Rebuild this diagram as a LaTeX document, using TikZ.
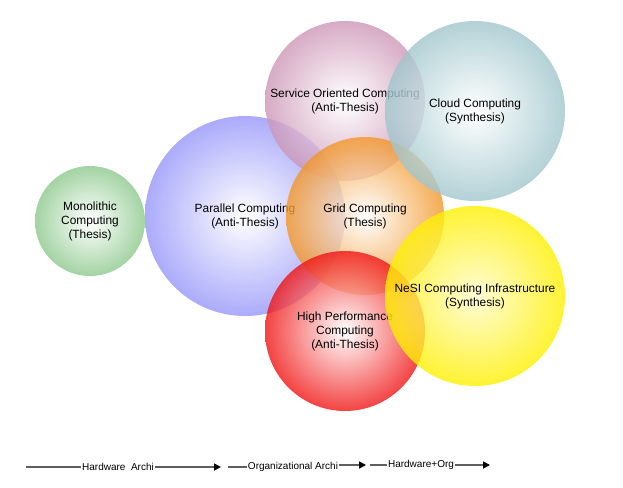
\documentclass[tikz,border=0pt]{standalone}
\usepackage{fontspec}
\setmainfont{Liberation Sans}
\usetikzlibrary{arrows.meta}
\definecolor{cgreen}{RGB}{140,200,140}
\definecolor{cblue}{RGB}{150,150,250}
\definecolor{cpink}{RGB}{205,150,182}
\definecolor{ccloud}{RGB}{160,198,204}
\definecolor{corange}{RGB}{242,150,40}
\definecolor{cred}{RGB}{240,20,20}
\definecolor{cyellow}{RGB}{255,240,0}
\definecolor{lgray}{RGB}{95,95,95}
\tikzset{
  bubble/.style={shading=radial, inner color=white, outer color=#1, fill opacity=0.8},
  lbl/.style={align=center, font=\fontsize{11.9}{14}\selectfont, text=black, inner sep=0pt},
  axtxt/.style={font=\fontsize{10}{12}\selectfont, inner sep=1pt, text=black},
  axline/.style={draw=lgray, line width=1.6pt},
  axarrow/.style={axline, -{Triangle[black,length=7pt,width=7pt]}}
}
\begin{document}
\begin{tikzpicture}[x=1pt,y=-1pt]
\useasboundingbox (0,0) rectangle (623,487);
% Monolithic
\path[bubble=cgreen] (90,221) circle (55);
\node[lbl] (mono) at (90,221) {Monolithic\\Computing\\(Thesis)};
% Parallel
\path[bubble=cblue] (245,216) circle (100);
\node[lbl] (par) at (245,216) {Parallel Computing\\(Anti-Thesis)};
% Service oriented
\path[bubble=cpink] (345,101) circle (80);
\node[lbl] (soc) at (345,101) {Service Oriented Computing\\(Anti-Thesis)};
% Grid
\path[bubble=corange] (365,216) circle (79);
\node[lbl] (grid) at (365,216) {Grid Computing\\(Thesis)};
% Cloud
\path[bubble=ccloud] (475,111) circle (90);
\node[lbl] (cloud) at (475,111) {Cloud Computing\\(Synthesis)};
% HPC
\path[bubble=cred] (345,331) circle (80);
\node[lbl] (hpc) at (345,331) {High Performance\\Computing\\(Anti-Thesis)};
% NeSI
\path[bubble=cyellow, inner color=cyellow!20] (475,296) circle (90);
\node[lbl] (nesi) at (475,296) {NeSI Computing Infrastructure\\(Synthesis)};
% bottom axis
\node[axtxt] (t1) at (118,467) {Hardware\ \ Archi};
\node[axtxt] (t2) at (293,467) {Organizational Archi};
\node[axtxt] (t3) at (421,465) {Hardware+Org};
\coordinate (s1) at (26,467);
\coordinate (e1) at (221,467);
\coordinate (s2) at (228,467);
\coordinate (e2) at (366,465);
\coordinate (s3) at (370,465);
\coordinate (e3) at (490,465);
\draw[axline] (s1) -- (t1.west);
\draw[axarrow] (t1.east) -- (e1);
\draw[axline] (s2) -- (t2.west);
\draw[axarrow] (t2.east |- e2) -- (e2);
\draw[axline] (s3) -- (t3.west);
\draw[axarrow] (t3.east) -- (e3);
\end{tikzpicture}
\end{document}
